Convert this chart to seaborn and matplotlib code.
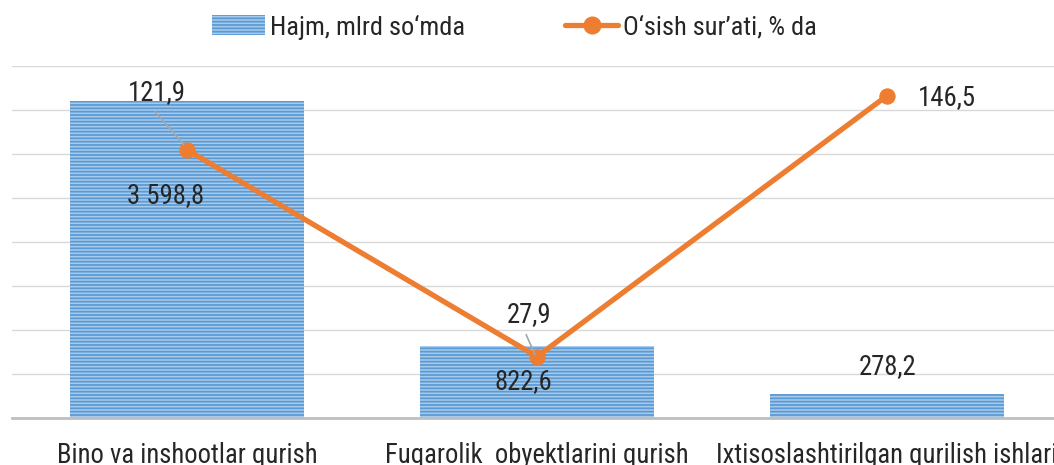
import matplotlib
matplotlib.use("Agg")
import matplotlib.pyplot as plt
import seaborn as sns
import numpy as np
from matplotlib.patches import Patch
from matplotlib.lines import Line2D

# data
categories = ["Bino va inshootlar qurish", "Fuqarolik  obyektlarini qurish",
              "Ixtisoslashtirilgan qurilish ishlari"]
volume = [3598.8, 822.6, 278.2]        # Hajm, mlrd so'mda
growth = [121.9, 27.9, 146.5]          # O'sish sur'ati, % da

def fmt(v):
    s = "{:,.1f}".format(v)
    return s.replace(",", " ").replace(".", ",")

sns.set_style("white")
plt.rcParams['font.family'] = ['Roboto Condensed', 'Liberation Sans Narrow', 'Roboto', 'DejaVu Sans']
plt.rcParams['hatch.linewidth'] = 1.3
FS = 19.3

blue_face = "#A9CBEB"
blue_line = "#5B9BD5"
orange = "#ED7D31"

fig = plt.figure(figsize=(10.54, 4.65), dpi=100)
ax = fig.add_axes([12/1054, 47/465, 1050/1054, 352/465])

sns.barplot(x=categories, y=volume, ax=ax, width=0.67, color=blue_face,
            saturation=1, edgecolor=blue_face, linewidth=1)
for p in ax.patches:
    p.set_hatch("-----")
    p.set_edgecolor(blue_line)
    p.set_linewidth(0)
ax.set_ylim(0, 4000)
ax.set_xlim(-0.5, 2.5)
ax.set_yticks(np.arange(0, 4001, 500))
ax.yaxis.grid(True, color="#D9D9D9", linewidth=1)
ax.set_axisbelow(True)
for s in ["top", "left", "right"]:
    ax.spines[s].set_visible(False)
ax.spines["bottom"].set_color("#BFBFBF")
ax.spines["bottom"].set_linewidth(2)
ax.set_xlabel("")
ax.set_ylabel("")

# bar labels (offsets in pixels, as Excel placed them)
bar_offsets = [(-21, -94), (-14, -36), (1, 27)]
for i, v in enumerate(volume):
    ax.annotate(fmt(v), xy=(i, v), xytext=bar_offsets[i], textcoords="offset pixels",
                ha="center", va="center", fontsize=FS)

ax2 = ax.twinx()
sns.lineplot(x=[0, 1, 2], y=growth, ax=ax2, color=orange, linewidth=3.8,
             marker="o", markersize=11, markeredgecolor=orange)
ax2.set_ylim(0, 160)
ax2.set_yticks([])
ax2.set_ylabel("")
for s in ["top", "left", "right", "bottom"]:
    ax2.spines[s].set_visible(False)

# twinx turns the left ticks back on, so set ticks afterwards
ax.tick_params(axis="y", left=False, right=False, labelleft=False)
ax.tick_params(axis="x", which="major", length=0, labelsize=19.2, pad=17)
ax.set_xticks([-0.5, 0.5, 1.5, 2.5], minor=True)
ax.tick_params(axis="x", which="minor", length=9, width=1.5, color="#BFBFBF")

# data labels of the line, with leader lines
line_offsets = [(-30, 57), (-8, 42), (60, -2)]
for i, g in enumerate(growth):
    ax2.annotate(fmt(g), xy=(i, g), xytext=line_offsets[i], textcoords="offset pixels",
                 ha="center", va="center", fontsize=FS)
ax2.annotate("", xy=(-0.009, growth[0] + 2.3), xytext=(-0.091, growth[0] + 17.3),
             arrowprops=dict(arrowstyle="-", color="#A6A6A6", lw=1.2, shrinkA=0, shrinkB=0))
ax2.annotate("", xy=(0.994, growth[1] + 1), xytext=(0.969, growth[1] + 10),
             arrowprops=dict(arrowstyle="-", color="#A6A6A6", lw=1.2, shrinkA=0, shrinkB=0))

# legend
h1 = Patch(facecolor=blue_face, edgecolor=blue_line, hatch="-----", linewidth=0)
h2 = Line2D([], [], color=orange, linewidth=3.8, marker="o", markersize=12)
fig.legend([h1, h2], ["Hajm, mlrd so‘mda", "O‘sish sur’ati, % da"],
           loc="center", bbox_to_anchor=(0.488, 1 - 27/465), ncol=2, frameon=False,
           fontsize=19, handlelength=2.0, handleheight=0.8, handletextpad=0.19,
           columnspacing=3.8)

fig.savefig("out.png", dpi=100)
